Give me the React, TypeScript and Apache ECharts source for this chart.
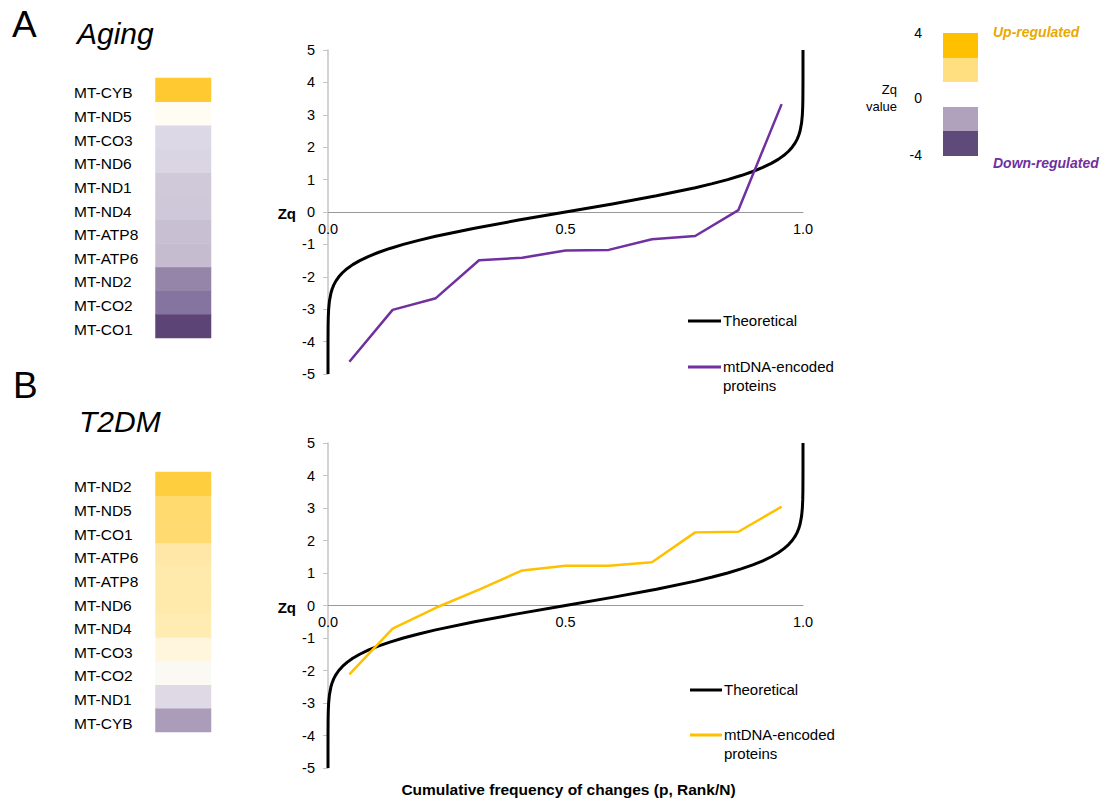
import React, { useEffect, useRef } from "react";
import * as echarts from "echarts";

// ---- Data ----
const pRank = [0.045, 0.136, 0.227, 0.318, 0.409, 0.5, 0.591, 0.682, 0.773, 0.864, 0.955];

// Aging (ascending Zq, bottom -> top in heatmap)
const genesAging = ["MT-CO1", "MT-CO2", "MT-ND2", "MT-ATP6", "MT-ATP8", "MT-ND4", "MT-ND1", "MT-ND6", "MT-CO3", "MT-ND5", "MT-CYB"];
const zqAging = [-4.62, -3.02, -2.66, -1.49, -1.41, -1.19, -1.17, -0.84, -0.74, 0.06, 3.33];

// T2DM (ascending Zq)
const genesT2DM = ["MT-CYB", "MT-ND1", "MT-CO2", "MT-CO3", "MT-ND4", "MT-ND6", "MT-ATP8", "MT-ATP6", "MT-CO1", "MT-ND5", "MT-ND2"];
const zqT2DM = [-2.12, -0.71, -0.07, 0.49, 1.08, 1.22, 1.22, 1.33, 2.25, 2.27, 3.04];

// Theoretical normal quantile curve (p, Zq)
const theoreticalP = [
  0, 0.0000034, 0.0000317, 0.000233, 0.000577, 0.00135, 0.00298, 0.00621, 0.00877, 0.01222, 0.01679, 0.02275,
  0.0304, 0.04006, 0.05208, 0.06681, 0.08459, 0.10565, 0.13029, 0.15866, 0.19079, 0.22663, 0.30854, 0.40129,
  0.5,
  0.59871, 0.69146, 0.77337, 0.80921, 0.84134, 0.86971, 0.89435, 0.91541, 0.93319, 0.94792, 0.95994, 0.9696,
  0.97725, 0.98321, 0.98778, 0.99123, 0.99379, 0.99702, 0.99865, 0.999423, 0.999767, 0.9999683, 0.9999966, 1,
];
const theoreticalZ = [
  -5, -4.5, -4, -3.5, -3.25, -3, -2.75, -2.5, -2.375, -2.25, -2.125, -2,
  -1.875, -1.75, -1.625, -1.5, -1.375, -1.25, -1.125, -1, -0.875, -0.75, -0.5, -0.25,
  0,
  0.25, 0.5, 0.75, 0.875, 1, 1.125, 1.25, 1.375, 1.5, 1.625, 1.75, 1.875,
  2, 2.125, 2.25, 2.375, 2.5, 2.75, 3, 3.25, 3.5, 4, 4.5, 5,
];

const yTicks = { min: -5, max: 5, interval: 1 };
const xTicks = { min: 0, max: 1, interval: 0.5 };

const heatColors = [
  "#553A6E", "#5F4778", "#6A5384", "#786494", "#8775A0", "#9B8CAD", "#B0A3BE", "#C5BCD0", "#D5CFDF", "#E4E1EA",
  "#FFFDF6", "#FFF6DC", "#FFEDB6", "#FFE6A0", "#FFDE80", "#FFD660", "#FFCF40", "#FFC82A", "#FFC000", "#FFBB00", "#FFB800",
];

const FONT = "'Liberation Sans', Arial, sans-serif";

function hiddenX(grid: number) {
  return { type: "category", gridIndex: grid, data: ["Zq"], show: false };
}
function heatY(grid: number, genes: string[]) {
  return { type: "category", gridIndex: grid, data: genes, show: false };
}
function labelY(grid: number, genes: string[]) {
  return {
    type: "category",
    gridIndex: grid,
    data: genes,
    axisLine: { show: false },
    axisTick: { show: false },
    splitLine: { show: false },
    axisLabel: { align: "left", margin: 81.5, fontSize: 15.5, color: "#000", fontFamily: FONT },
  };
}
function lineX(grid: number, off: number) {
  return {
    type: "value",
    gridIndex: grid,
    min: xTicks.min,
    max: xTicks.max,
    interval: xTicks.interval,
    position: "bottom",
    offset: off,
    axisLine: { show: true, onZero: false, lineStyle: { color: "#999999", width: 1 } },
    axisTick: { show: false },
    splitLine: { show: false },
    axisLabel: { fontSize: 14.5, color: "#000", margin: 9, fontFamily: FONT, formatter: (v: number) => v.toFixed(1) },
  };
}
function lineY(grid: number) {
  return {
    type: "value",
    gridIndex: grid,
    min: yTicks.min,
    max: yTicks.max,
    interval: yTicks.interval,
    axisLine: { show: true, lineStyle: { color: "#C4C4C4", width: 1.5 } },
    axisTick: { show: true, length: 5, lineStyle: { color: "#C4C4C4" } },
    splitLine: { show: false },
    axisLabel: { fontSize: 14.5, color: "#000", margin: 13, fontFamily: FONT },
  };
}

function txt(text: string, x: number, y: number, extra: any = {}) {
  return {
    type: "text",
    x,
    y,
    style: { text, fontSize: 14, fontFamily: FONT, fill: "#000", align: "left", verticalAlign: "middle", ...extra },
  };
}
function legLine(x1: number, x2: number, y: number, color: string) {
  return { type: "line", shape: { x1, y1: y, x2, y2: y }, style: { stroke: color, lineWidth: 3 } };
}

export default function App() {
  const ref = useRef<HTMLDivElement>(null);
  useEffect(() => {
    if (!ref.current) return;
    const chart = echarts.init(ref.current, undefined, { renderer: "svg" });
    const theo = theoreticalP.map((p, i) => [p, theoreticalZ[i]]);
    const option: any = {
      animation: false,
      backgroundColor: "#fff",
      textStyle: { fontFamily: FONT },
      grid: [
        { left: 155.5, top: 78, width: 55.5, height: 260 },
        { left: 328, top: 50, width: 475, height: 324 },
        { left: 155.5, top: 472, width: 55.5, height: 260 },
        { left: 328, top: 443, width: 475, height: 325 },
        // label-only grids (gene names sit slightly below cell centres)
        { left: 155.5, top: 81, width: 55.5, height: 260 },
        { left: 155.5, top: 475, width: 55.5, height: 260 },
      ],
      xAxis: [hiddenX(0), lineX(1, -162), hiddenX(2), lineX(3, -162.5), hiddenX(4), hiddenX(5)],
      yAxis: [heatY(0, genesAging), lineY(1), heatY(2, genesT2DM), lineY(3), labelY(4, genesAging), labelY(5, genesT2DM)],
      visualMap: {
        type: "continuous",
        show: false,
        min: -5,
        max: 5,
        seriesIndex: [0, 3],
        inRange: { color: heatColors },
      },
      series: [
        {
          type: "heatmap",
          xAxisIndex: 0,
          yAxisIndex: 0,
          data: genesAging.map((g, i) => [0, i, zqAging[i]]),
        },
        {
          type: "line",
          name: "Theoretical",
          xAxisIndex: 1,
          yAxisIndex: 1,
          data: theo,
          showSymbol: false,
          clip: false,
          lineStyle: { color: "#000", width: 3, join: "round" },
          z: 3,
        },
        {
          type: "line",
          name: "mtDNA-encoded proteins",
          xAxisIndex: 1,
          yAxisIndex: 1,
          data: pRank.map((p, i) => [p, zqAging[i]]),
          showSymbol: false,
          lineStyle: { color: "#7030A0", width: 2.5 },
          z: 4,
        },
        {
          type: "heatmap",
          xAxisIndex: 2,
          yAxisIndex: 2,
          data: genesT2DM.map((g, i) => [0, i, zqT2DM[i]]),
        },
        {
          type: "line",
          name: "Theoretical",
          xAxisIndex: 3,
          yAxisIndex: 3,
          data: theo,
          showSymbol: false,
          clip: false,
          lineStyle: { color: "#000", width: 3, join: "round" },
          z: 3,
        },
        {
          type: "line",
          name: "mtDNA-encoded proteins",
          xAxisIndex: 3,
          yAxisIndex: 3,
          data: pRank.map((p, i) => [p, zqT2DM[i]]),
          showSymbol: false,
          lineStyle: { color: "#FFC000", width: 2.5 },
          z: 4,
        },
      ],
      graphic: [
        // panel titles
        txt("A", 12, 24, { fontSize: 37 }),
        txt("Aging", 77, 33, { fontSize: 30, fontStyle: "italic" }),
        txt("B", 13, 385, { fontSize: 37 }),
        txt("T2DM", 79, 421, { fontSize: 30, fontStyle: "italic" }),
        // Zq axis names
        txt("Zq", 296, 213, { fontSize: 15, fontWeight: "bold", align: "right" }),
        txt("Zq", 296, 607, { fontSize: 15, fontWeight: "bold", align: "right" }),
        // legend A
        legLine(688, 721, 321, "#000"),
        txt("Theoretical", 723, 320, { fontSize: 15 }),
        legLine(688, 721, 367, "#7030A0"),
        txt("mtDNA-encoded", 723, 366, { fontSize: 15 }),
        txt("proteins", 723, 385, { fontSize: 15 }),
        // legend B
        legLine(690, 722, 690, "#000"),
        txt("Theoretical", 724, 689, { fontSize: 15 }),
        legLine(690, 722, 735, "#FFC000"),
        txt("mtDNA-encoded", 724, 734, { fontSize: 15 }),
        txt("proteins", 724, 753, { fontSize: 15 }),
        // x-axis title
        txt("Cumulative frequency of changes (p, Rank/N)", 568.5, 789, { fontSize: 15.5, fontWeight: "bold", align: "center" }),
        // colour key
        { type: "rect", shape: { x: 943, y: 33, width: 35, height: 25 }, style: { fill: "#FFC000" } },
        { type: "rect", shape: { x: 943, y: 58, width: 35, height: 24 }, style: { fill: "#FFDF80" } },
        { type: "rect", shape: { x: 943, y: 107, width: 35, height: 24 }, style: { fill: "#B0A2BD" } },
        { type: "rect", shape: { x: 943, y: 131, width: 35, height: 25 }, style: { fill: "#5F4B7A" } },
        txt("4", 922, 33, { align: "right" }),
        txt("0", 922, 98, { align: "right" }),
        txt("-4", 922, 155, { align: "right" }),
        txt("Zq", 897, 89, { fontSize: 13, align: "right" }),
        txt("value", 897, 106, { fontSize: 13, align: "right" }),
        txt("Up-regulated", 993, 32, { fontSize: 14, fontWeight: "bold", fontStyle: "italic", fill: "#E9A900" }),
        txt("Down-regulated", 993, 163, { fontSize: 14, fontWeight: "bold", fontStyle: "italic", fill: "#7030A0" }),
      ],
    };
    chart.setOption(option);
    return () => chart.dispose();
  }, []);
  return (
    <div
      ref={ref}
      style={{ position: "absolute", left: 0, top: 0, width: 1107, height: 800, background: "#fff" }}
    />
  );
}
